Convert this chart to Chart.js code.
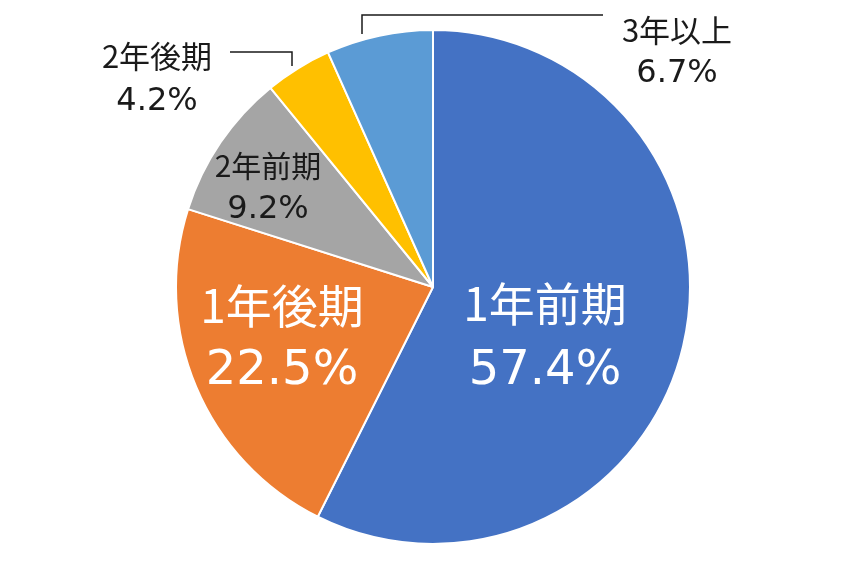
<!DOCTYPE html>
<html>
<head>
<meta charset="utf-8">
<script src="https://cdn.jsdelivr.net/npm/chart.js@4"></script>
<style>
  html, body { margin: 0; padding: 0; background: #fff; }
  #wrap { width: 859px; height: 570px; }
</style>
</head>
<body>
<div id="wrap"><canvas id="gradeChart"></canvas></div>
<script>
const categories = ['1年前期', '1年後期', '2年前期', '2年後期', '3年以上'];
const shares = [57.4, 22.5, 9.2, 4.2, 6.7];
const colors = ['#4472C4', '#ED7D31', '#A5A5A5', '#FFC000', '#5B9BD5'];

// label placement: centre x, baselines of name / percent lines, font sizes
const labelPos = [
    { x: 545, y1: 321, y2: 384, s1: 46, s2: 48, color: '#fff' },
    { x: 282, y1: 323, y2: 384, s1: 46, s2: 48, color: '#fff' },
    { x: 268, y1: 177, y2: 218, s1: 30, s2: 32, color: '#1a1a1a' },
    { x: 157, y1: 68, y2: 110, s1: 31, s2: 32, color: '#1a1a1a' },
    { x: 677, y1: 42, y2: 82, s1: 31, s2: 32, color: '#1a1a1a' }
];
// leader lines for the small outside labels
const leaders = [
    [[230, 52], [292, 52], [292, 66]],
    [[603, 15], [362, 15], [362, 34]]
];

const labelPlugin = {
    id: 'pieLabels',
    afterDatasetsDraw(chart) {
        const ctx = chart.ctx;
        ctx.save();
        ctx.strokeStyle = '#1a1a1a';
        ctx.lineWidth = 1.5;
        leaders.forEach(pts => {
            ctx.beginPath();
            pts.forEach((p, k) => k ? ctx.lineTo(p[0], p[1]) : ctx.moveTo(p[0], p[1]));
            ctx.stroke();
        });
        ctx.textAlign = 'center';
        ctx.textBaseline = 'alphabetic';
        categories.forEach((name, i) => {
            const p = labelPos[i];
            ctx.fillStyle = p.color;
            ctx.font = p.s1 + 'px "Noto Sans CJK JP", sans-serif';
            ctx.fillText(name, p.x, p.y1);
            ctx.font = p.s2 + 'px "DejaVu Sans", sans-serif';
            ctx.fillText(shares[i].toFixed(1) + '%', p.x, p.y2);
        });
        ctx.restore();
    }
};

const ctx = document.getElementById('gradeChart').getContext('2d');
new Chart(ctx, {
    type: 'pie',
    data: {
        labels: categories,
        datasets: [{
            data: shares,
            backgroundColor: colors,
            borderColor: '#fff',
            borderWidth: 2
        }]
    },
    options: {
        responsive: true,
        maintainAspectRatio: false,
        animation: false,
        layout: { padding: { top: 29, bottom: 25, left: 100, right: 93 } },
        plugins: {
            legend: { display: false },
            tooltip: { enabled: false }
        }
    },
    plugins: [labelPlugin]
});
</script>
</body>
</html>
